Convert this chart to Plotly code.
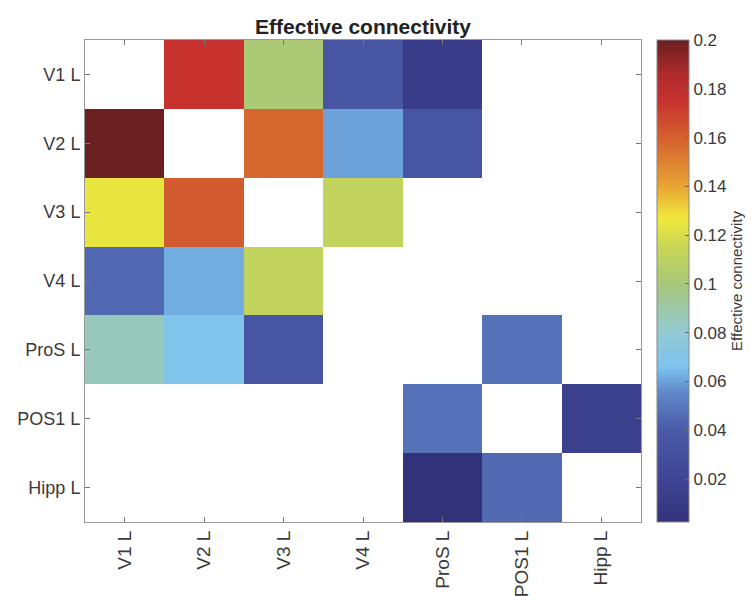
import plotly.graph_objects as go

regions = ["V1 L", "V2 L", "V3 L", "V4 L", "ProS L", "POS1 L", "Hipp L"]
N = None
values = [
    [N,     0.175, 0.102, 0.035, 0.012, N,     N],
    [0.200, N,     0.158, 0.060, 0.035, N,     N],
    [0.125, 0.162, N,     0.112, N,     N,     N],
    [0.045, 0.062, 0.112, N,     N,     N,     N],
    [0.085, 0.068, 0.035, N,     N,     0.048, N],
    [N,     N,     N,     N,     0.048, N,     0.015],
    [N,     N,     N,     N,     0.0024, 0.045, N],
]
cbar_tickvals = [0.02, 0.04, 0.06, 0.08, 0.10, 0.12, 0.14, 0.16, 0.18, 0.20]
cbar_ticktext = ["0.02", "0.04", "0.06", "0.08", "0.1", "0.12", "0.14", "0.16", "0.18", "0.2"]

flat = [v for row in values for v in row if v is not None]
zmin, zmax = min(flat), max(flat)

def pos(v):
    return (v - zmin) / (zmax - zmin)

stops = [
    (zmin, "#32327a"), (0.02, "#3e4595"), (0.04, "#4a5aa6"), (0.055, "#5f86c8"),
    (0.066, "#7dc3f0"), (0.08, "#93cad4"), (0.10, "#a8c77a"), (0.115, "#c7d655"),
    (0.127, "#f0e83c"), (0.14, "#e8a534"), (0.155, "#d8702f"), (0.175, "#c8322e"),
    (0.186, "#ae2a2c"), (zmax, "#6a1f20"),
]
colorscale = [[pos(v), c] for v, c in stops]

font = "Liberation Sans, Arial, Helvetica, sans-serif"
# the page body adds an 8px offset; margins compensate so the plot lands where the reference has it
OFF = 8
W, H = 753, 596
L, T = 85 - OFF, 40 - OFF
R = W - (641 - OFF)
B = H - (522 - OFF)
plot_w = W - L - R

fig = go.Figure(go.Heatmap(
    z=values, x=regions, y=regions,
    zmin=zmin, zmax=zmax, colorscale=colorscale,
    hoverongaps=False,
    colorbar=dict(
        x=(657 - OFF - L) / plot_w, xanchor="left", xref="paper", xpad=0, ypad=0,
        y=0.5, yanchor="middle", len=1, lenmode="fraction",
        thickness=32, outlinecolor="#888", outlinewidth=1,
        tickvals=cbar_tickvals, ticktext=cbar_ticktext,
        ticks="inside", ticklen=4, tickcolor="#666",
        tickfont=dict(family=font, size=17, color="#3a3a3a"),
        title=dict(text="Effective connectivity", side="right",
                   font=dict(family=font, size=15, color="#3a3a3a")),
    ),
))

fig.update_layout(
    width=W, height=H,
    margin=dict(l=L, r=R, t=T, b=B, autoexpand=False),
    plot_bgcolor="white", paper_bgcolor="white",
    title=dict(text="<b>Effective connectivity</b>", x=(L + W - R) / 2 / W, xanchor="center",
               y=1 - (27 - OFF) / H, yanchor="middle",
               font=dict(family=font, size=21, color="#222")),
)
fig.update_xaxes(
    automargin=False,
    showline=True, linecolor="#999", linewidth=1, mirror="ticks",
    ticks="inside", ticklen=5, tickcolor="#777",
    tickangle=-90, tickfont=dict(family=font, size=19, color="#3a3a3a"),
    showgrid=False, zeroline=False,
)
fig.update_yaxes(
    automargin=False,
    autorange="reversed",
    showline=True, linecolor="#999", linewidth=1, mirror="ticks",
    ticks="inside", ticklen=5, tickcolor="#777",
    tickfont=dict(family=font, size=18, color="#3a3a3a"),
    showgrid=False, zeroline=False,
)

fig.write_html("out.html")
